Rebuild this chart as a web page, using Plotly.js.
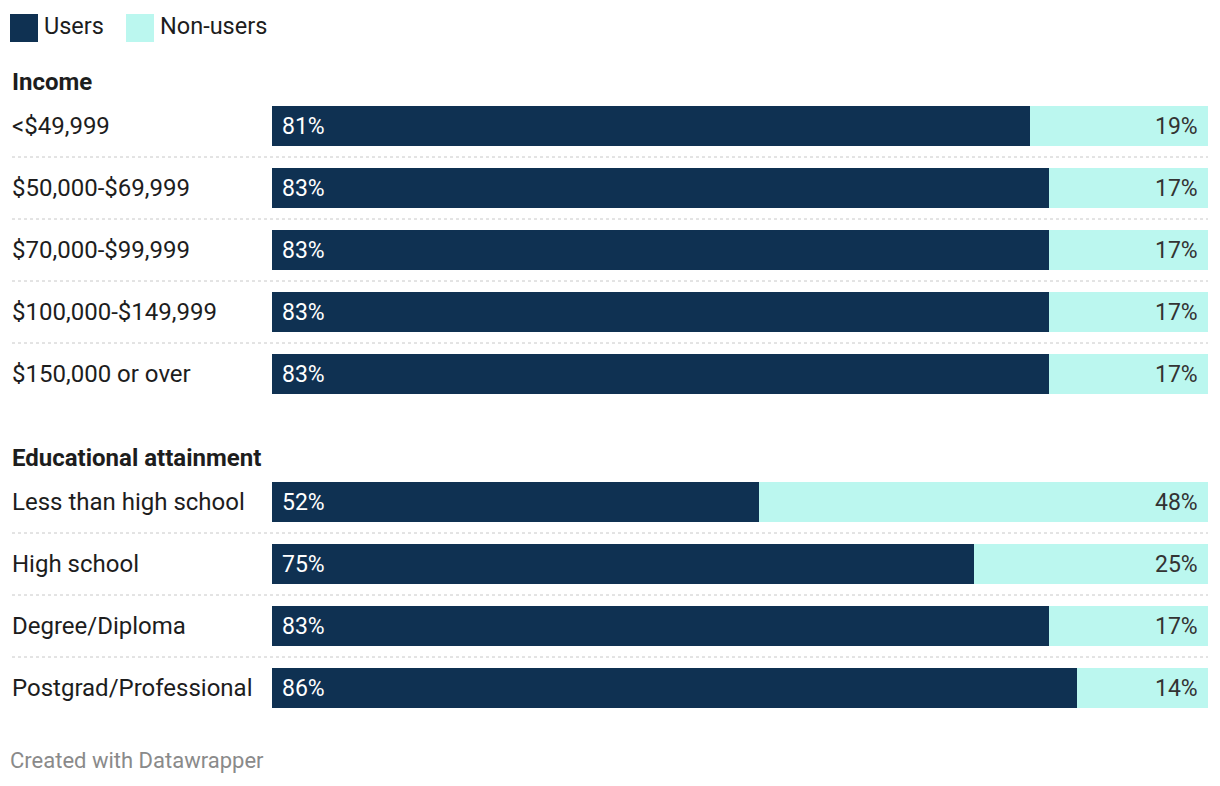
<!DOCTYPE html>
<html>
<head>
<meta charset="utf-8">
<script src="https://cdn.plot.ly/plotly-3.0.1.min.js"></script>
<style>
  html, body { margin: 0; padding: 0; background: #ffffff; }
  #chart { width: 1220px; height: 786px; }
</style>
</head>
<body>
<div id="chart"></div>
<script>
// ---- Data ----
const seriesNames = ["Users", "Non-users"];
const incomeTitle = "Income";
const incomeLabels = ["<$49,999", "$50,000-$69,999", "$70,000-$99,999", "$100,000-$149,999", "$150,000 or over"];
const incomeUsers = [81, 83, 83, 83, 83];
const incomeNonUsers = [19, 17, 17, 17, 17];
const educationTitle = "Educational attainment";
const educationLabels = ["Less than high school", "High school", "Degree/Diploma", "Postgrad/Professional"];
const educationUsers = [52, 75, 83, 86];
const educationNonUsers = [48, 25, 17, 14];
const footerText = "Created with Datawrapper";

// ---- Layout helpers (pixel geometry) ----
const W = 1220, H = 786;
const L = 272, R = 12;
const plotW = W - L - R;
const px = x => (x - L) / plotW; // pixel x -> paper x
const COLOR_USERS = "#0f3152";
const COLOR_NON = "#bbf7ef";
const FONT = "Roboto, 'Open Sans', sans-serif";
const LABEL_SIZE = 24;
const VALUE_SIZE = 23;

const groups = [
  { title: incomeTitle, labels: incomeLabels, users: incomeUsers, non: incomeNonUsers },
  { title: educationTitle, labels: educationLabels, users: educationUsers, non: educationNonUsers }
];

const yCat = [], xUsers = [], xNon = [], headers = [], rowLabels = [];
let cursor = 82;
groups.forEach((g, gi) => {
  headers.push({ text: g.title, y: cursor });
  const start = cursor + 44;
  g.labels.forEach((lab, i) => {
    const y = start + 62 * i;
    yCat.push(y);
    xUsers.push(g.users[i]);
    xNon.push(g.non[i]);
    rowLabels.push({ text: lab, y: y, sep: i < g.labels.length - 1 ? y + 31 : null });
  });
  cursor = start + 62 * (g.labels.length - 1) + 84;
});

const traces = [
  {
    type: "bar", orientation: "h", name: seriesNames[0],
    x: xUsers, y: yCat, width: 40,
    marker: { color: COLOR_USERS, line: { width: 0 } },
    hoverinfo: "skip", showlegend: false
  },
  {
    type: "bar", orientation: "h", name: seriesNames[1],
    x: xNon, y: yCat, width: 40,
    marker: { color: COLOR_NON, line: { width: 0 } },
    hoverinfo: "skip", showlegend: false
  }
];

const annotations = [];
const shapes = [];

// Legend
[ [10, COLOR_USERS, seriesNames[0], 42], [126, COLOR_NON, seriesNames[1], 158] ].forEach(([x0, c, t, tx]) => {
  shapes.push({ type: "rect", xref: "paper", yref: "y", x0: px(x0), x1: px(x0 + 28), y0: 14, y1: 42,
    fillcolor: c, line: { width: 0 } });
  annotations.push({ xref: "paper", yref: "y", x: px(tx), y: 26, text: t, showarrow: false,
    xanchor: "left", yanchor: "middle", font: { family: FONT, size: LABEL_SIZE - 0.5, color: "#1d1d1d" } });
});

// Group headers
headers.forEach(h => {
  annotations.push({ xref: "paper", yref: "y", x: px(12), y: h.y, text: "<b>" + h.text + "</b>",
    showarrow: false, xanchor: "left", yanchor: "middle", xshift: -2,
    font: { family: FONT, size: LABEL_SIZE, color: "#1d1d1d" } });
});

// Row labels and separators
rowLabels.forEach(r => {
  annotations.push({ xref: "paper", yref: "y", x: px(12), y: r.y, text: r.text,
    showarrow: false, xanchor: "left", yanchor: "middle", xshift: -2,
    font: { family: FONT, size: LABEL_SIZE, color: "#1d1d1d" } });
  if (r.sep !== null) {
    shapes.push({ type: "line", xref: "paper", yref: "y", x0: px(12), x1: 1, y0: r.sep, y1: r.sep,
      line: { color: "#c8c8c8", width: 1, dash: "dot" } });
  }
});

// Value labels
yCat.forEach((y, i) => {
  annotations.push({ xref: "x", yref: "y", x: 0, y: y, text: xUsers[i] + "%", showarrow: false,
    xanchor: "left", yanchor: "middle", xshift: 8,
    font: { family: FONT, size: VALUE_SIZE, color: "#ffffff" } });
  annotations.push({ xref: "x", yref: "y", x: xUsers[i] + xNon[i], y: y, text: xNon[i] + "%", showarrow: false,
    xanchor: "right", yanchor: "middle", xshift: -8,
    font: { family: FONT, size: VALUE_SIZE, color: "#333333" } });
});

// Footer
annotations.push({ xref: "paper", yref: "y", x: px(10), y: 760, text: footerText, showarrow: false,
  xanchor: "left", yanchor: "middle", xshift: -2,
  font: { family: FONT, size: 22, color: "#8a8a8a" } });

const layout = {
  width: W, height: H,
  margin: { l: L, r: R, t: 0, b: 0, pad: 0 },
  paper_bgcolor: "#ffffff", plot_bgcolor: "#ffffff",
  barmode: "stack", bargap: 0,
  showlegend: false,
  xaxis: { range: [0, 100], visible: false, fixedrange: true },
  yaxis: { range: [H, 0], visible: false, fixedrange: true },
  annotations: annotations,
  shapes: shapes,
  font: { family: FONT }
};

Plotly.newPlot("chart", traces, layout, { displayModeBar: false, staticPlot: true });
</script>
</body>
</html>
